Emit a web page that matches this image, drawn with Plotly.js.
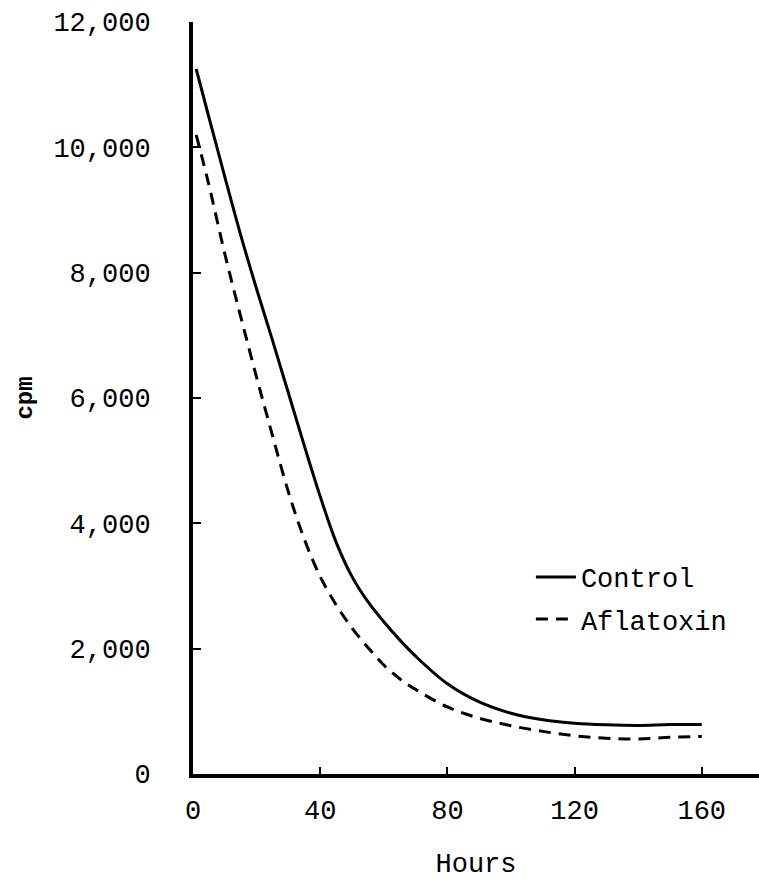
<!DOCTYPE html>
<html>
<head>
<meta charset="utf-8">
<script src="https://cdn.plot.ly/plotly-3.0.1.min.js"></script>
<style>html,body{margin:0;padding:0;background:#fff;}</style>
</head>
<body>
<div id="chart" style="width:759px;height:880px;"></div>
<script>
// Data
const hours = [1, 5, 10, 15, 20, 25, 30, 35, 40, 45, 50, 55, 60, 65, 70, 80, 90, 100, 110, 120, 130, 140, 150, 160];
const control = [11250, 10480, 9530, 8600, 7740, 6920, 6080, 5240, 4430, 3700, 3150, 2750, 2430, 2140, 1880, 1440, 1150, 970, 865, 810, 785, 775, 790, 790];
const aflatoxin = [10200, 9400, 8300, 7300, 6330, 5400, 4500, 3750, 3150, 2700, 2330, 2020, 1740, 1520, 1350, 1070, 890, 770, 680, 610, 570, 560, 585, 600];
const seriesNames = ["Control", "Aflatoxin"];
const xTickVals = [0, 40, 80, 120, 160];
const xTickText = ["0", "40", "80", "120", "160"];
const yTickVals = [0, 2000, 4000, 6000, 8000, 10000, 12000];
const yTickText = ["0", "2,000", "4,000", "6,000", "8,000", "10,000", "12,000"];

const FONT = "Liberation Mono, Courier New, DejaVu Sans Mono, monospace";

const traces = [
  {x: hours, y: control, name: seriesNames[0], mode: "lines", legendgroup: "a",
   line: {color: "#000", width: 3, shape: "spline", smoothing: 1}},
  {x: hours, y: aflatoxin, name: seriesNames[1], mode: "lines", legendgroup: "b",
   line: {color: "#000", width: 3, dash: "12px,8px", shape: "spline", smoothing: 1}}
];

const layout = {
  width: 759, height: 880,
  margin: {l: 193, r: 0, t: 22, b: 106},
  paper_bgcolor: "#fff", plot_bgcolor: "#fff",
  font: {family: FONT, size: 27, color: "#000"},
  showlegend: true,
  legend: {x: 0.597, y: 0.294, xanchor: "left", yanchor: "top",
           bgcolor: "rgba(0,0,0,0)", font: {family: FONT, size: 27, color: "#000"},
           tracegroupgap: 4, itemwidth: 40},
  xaxis: {
    range: [0, 178], showgrid: false, zeroline: false,
    showline: true, linewidth: 4, linecolor: "#000",
    ticks: "inside", ticklen: 7, tickwidth: 2, tickcolor: "#000",
    tickvals: xTickVals, ticktext: xTickText, ticklabelstandoff: 9,
    title: {text: "Hours", font: {family: FONT, size: 27, color: "#000"}, standoff: 35}
  },
  yaxis: {
    range: [0, 12000], showgrid: false, zeroline: false,
    showline: true, linewidth: 4, linecolor: "#000",
    ticks: "inside", ticklen: 8, tickwidth: 2, tickcolor: "#000",
    tickvals: yTickVals, ticktext: yTickText, ticklabelstandoff: 33,
    title: {text: "<b>cpm</b>", font: {family: FONT, size: 24, color: "#000"}, standoff: 15}
  }
};

Plotly.newPlot("chart", traces, layout, {staticPlot: true, displayModeBar: false});
</script>
</body>
</html>
